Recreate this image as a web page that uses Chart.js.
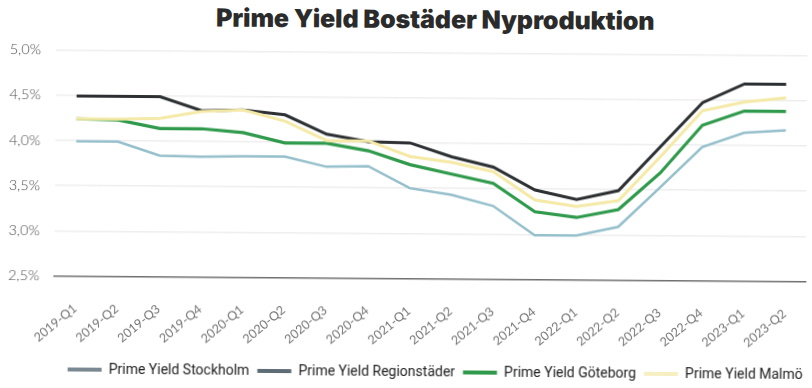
<!DOCTYPE html>
<html>
<head>
<meta charset="utf-8">
<script src="https://cdn.jsdelivr.net/npm/chart.js@4.4.0/dist/chart.umd.min.js"></script>
<style>
  html, body { margin: 0; padding: 0; background: #ffffff; overflow: hidden; }
  #wrap { position: relative; width: 812px; height: 388px; transform: rotate(0.43deg); transform-origin: 50% 50%; }
  #title { position: absolute; top: 4px; left: 434px; transform: translateX(-50%); white-space: nowrap;
           font-family: "Inter", "Liberation Sans", sans-serif; font-weight: 900; font-size: 25px; line-height: 30px; color: #2b2b2b; letter-spacing: -0.1px; }
  canvas { position: absolute; left: 0; top: 0; }
</style>
</head>
<body>
<div id="wrap">
  <div id="title">Prime Yield Bostäder Nyproduktion</div>
  <canvas id="c" width="812" height="388"></canvas>
</div>
<script>
const quarters = ["2019-Q1","2019-Q2","2019-Q3","2019-Q4","2020-Q1","2020-Q2","2020-Q3","2020-Q4","2021-Q1","2021-Q2","2021-Q3","2021-Q4","2022-Q1","2022-Q2","2022-Q3","2022-Q4","2023-Q1","2023-Q2"];
const stockholm    = [3.99,3.99,3.84,3.83,3.84,3.84,3.73,3.74,3.50,3.43,3.31,2.99,2.99,3.09,3.53,3.98,4.14,4.17];
const regionstader = [4.49,4.49,4.49,4.34,4.35,4.30,4.09,4.01,4.00,3.85,3.74,3.49,3.39,3.49,3.98,4.47,4.68,4.68];
const goteborg     = [4.24,4.23,4.14,4.14,4.10,3.99,3.99,3.91,3.76,3.66,3.56,3.25,3.19,3.28,3.69,4.22,4.38,4.38];
const malmo        = [4.24,4.24,4.25,4.33,4.35,4.23,4.02,4.02,3.85,3.79,3.69,3.38,3.31,3.38,3.87,4.38,4.48,4.53];
const seriesNames  = ["Prime Yield Stockholm","Prime Yield Regionstäder","Prime Yield Göteborg","Prime Yield Malmö"];
const yTicks = [2.5,3.0,3.5,4.0,4.5,5.0];

const lineColors   = ["#94bfcb","#2c3033","#2f9a4b","#f4e9a6"];
const legendColors = ["#7a8891","#5e6c76","#2f9a4b","#f6efc2"];
const lineWidths   = [2.5,3,3.2,3];
const drawOrder    = [3,2,1,0];

const seriesData = [stockholm, regionstader, goteborg, malmo];

new Chart(document.getElementById('c'), {
  type: 'line',
  data: {
    labels: quarters,
    datasets: seriesData.map((d, i) => ({
      label: seriesNames[i],
      data: d,
      borderColor: lineColors[i],
      backgroundColor: legendColors[i],
      borderWidth: lineWidths[i],
      pointRadius: 0,
      tension: 0,
      fill: false,
      order: drawOrder[i]
    }))
  },
  options: {
    responsive: false,
    animation: false,
    devicePixelRatio: 1,
    layout: { padding: { top: 52.5, bottom: 0, left: 0, right: 0 } },
    plugins: {
      title: { display: false },
      tooltip: { enabled: false },
      legend: {
        position: 'bottom',
        align: 'end',
        maxHeight: 31,
        labels: {
          boxWidth: 34,
          boxHeight: 4,
          padding: 8,
          color: '#222',
          font: { family: 'Roboto', size: 14 },
          generateLabels: (chart) => chart.data.datasets.map((ds, i) => ({
            text: ds.label,
            fillStyle: legendColors[i],
            strokeStyle: legendColors[i],
            lineWidth: 0,
            hidden: false,
            datasetIndex: i,
            fontColor: '#222'
          }))
        }
      }
    },
    scales: {
      x: {
        offset: true,
        grid: { display: false },
        border: { display: true, color: '#707070', width: 1.5 },
        ticks: {
          autoSkip: false,
          maxRotation: 40,
          minRotation: 40,
          padding: 17,
          color: '#737373',
          font: { family: 'Lato', size: 12.5 }
        },
        afterFit: (s) => { s.height = 78.4; }
      },
      y: {
        min: 2.5,
        max: 5.0,
        afterBuildTicks: (s) => { s.ticks = yTicks.map(v => ({ value: v })); },
        grid: {
          drawTicks: false,
          color: (ctx) => ctx.tick && ctx.tick.value === 2.5 ? 'rgba(0,0,0,0)' : '#eeeeee',
          lineWidth: 1.5
        },
        border: { display: false },
        ticks: {
          padding: 15,
          color: '#4a4a4a',
          font: { family: 'Lato', size: 14.5, weight: 300 },
          callback: (v) => v.toFixed(1).replace('.', ',') + '%'
        },
        afterFit: (s) => { s.width = 55; }
      }
    }
  }
});
</script>
</body>
</html>
